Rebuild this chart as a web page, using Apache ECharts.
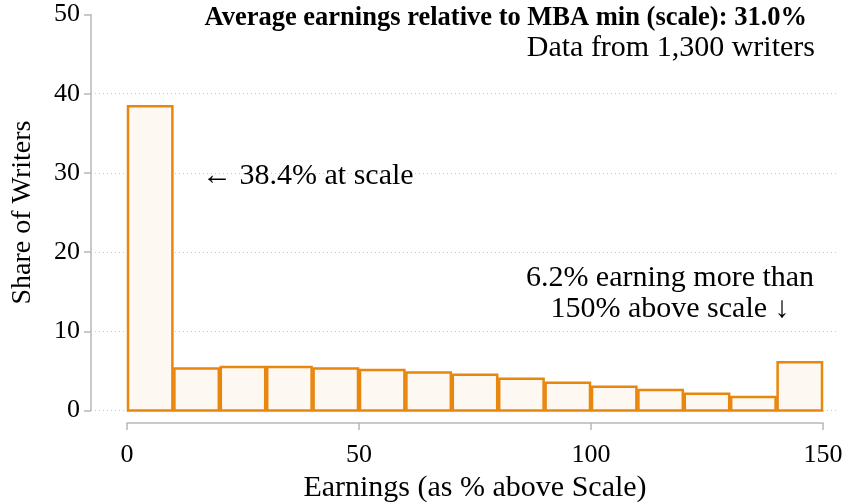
<!DOCTYPE html>
<html>
<head>
    <meta charset="utf-8">
    <title>Earnings histogram</title>
    <script src="https://cdn.jsdelivr.net/npm/echarts@6/dist/echarts.min.js"></script>
    <style type="text/css">
        body {
            margin: 0;
            background: #fff;
        }

        #main {
            width: 846px;
            height: 504px;
        }
    </style>
</head>
<body>
<div id="main"></div>
<script>
    // bins of 10 points, last bin holds everything above 140
    var binStarts = [0, 10, 20, 30, 40, 50, 60, 70, 80, 90, 100, 110, 120, 130, 140];
    var binWidth = 10;
    var shares = [38.4, 5.3, 5.5, 5.5, 5.3, 5.1, 4.8, 4.5, 4.0, 3.5, 3.0, 2.6, 2.1, 1.7, 6.1];
    var xTicks = [0, 50, 100, 150];
    var yTicks = [0, 10, 20, 30, 40, 50];

    var serif = 'Liberation Serif';
    var orange = '#E8860E';
    var axisGray = '#b8b8b8';

    var data = [];
    for (var i = 0; i < binStarts.length; i++) {
        data.push([binStarts[i], binStarts[i] + binWidth, shares[i]]);
    }

    function label(text, x, y, size, align, bold) {
        return {
            type: 'text',
            x: x,
            y: y,
            z: 10,
            style: {
                text: text,
                fill: '#000',
                font: (bold ? 'bold ' : '') + size + 'px "' + serif + '"',
                align: align,
                verticalAlign: 'middle'
            }
        };
    }

    var myChart = echarts.init(document.getElementById('main'));

    option = {
        animation: false,
        graphic: [
            label('Average earnings relative to MBA min (scale): 31.0%', 807, 18, 26.5, 'right', true),
            label('Data from 1,300 writers', 815, 48, 30, 'right', false),
            label('\u2190 38.4% at scale', 202, 176, 30, 'left', false),
            label('6.2% earning more than', 670, 278, 30, 'center', false),
            label('150% above scale \u2193', 670, 309, 30, 'center', false)
        ],
        grid: [
            {left: 127, right: 23, top: 14.5, bottom: 93.5, outerBoundsMode: 'none'},
            // dotted guide lines only go up to 40
            {left: 91, right: 8, top: 93.7, bottom: 93.5, outerBoundsMode: 'none'}
        ],
        xAxis: [{
            gridIndex: 0,
            type: 'value',
            min: 0,
            max: 150,
            interval: 50,
            offset: 12.5,
            name: 'Earnings (as % above Scale)',
            nameLocation: 'middle',
            nameGap: 48,
            nameTextStyle: {fontFamily: serif, fontSize: 30, color: '#000'},
            axisLine: {show: true, onZero: false, lineStyle: {color: axisGray, width: 1.5}},
            axisTick: {show: true, length: 7, lineStyle: {color: axisGray, width: 1.5}},
            axisLabel: {
                fontFamily: serif, fontSize: 26, color: '#000', margin: 19,
                formatter: function (v) {
                    return xTicks.indexOf(v) >= 0 ? String(v) : '';
                }
            },
            splitLine: {show: false}
        }, {
            gridIndex: 1,
            type: 'value',
            min: 0,
            max: 1,
            show: false
        }],
        yAxis: [{
            gridIndex: 0,
            type: 'value',
            min: 0,
            max: 50,
            interval: 10,
            offset: 36,
            name: 'Share of Writers',
            nameLocation: 'middle',
            nameGap: 54,
            nameTextStyle: {fontFamily: serif, fontSize: 28, color: '#000'},
            axisLine: {show: true, onZero: false, lineStyle: {color: axisGray, width: 1.5}},
            axisTick: {show: true, length: 7, lineStyle: {color: axisGray, width: 1.5}},
            axisLabel: {
                fontFamily: serif, fontSize: 26, color: '#000', margin: 11,
                formatter: function (v) {
                    return yTicks.indexOf(v) >= 0 ? String(v) : '';
                }
            },
            splitLine: {show: false}
        }, {
            gridIndex: 1,
            type: 'value',
            min: 0,
            max: 40,
            interval: 10,
            axisLine: {show: false},
            axisTick: {show: false},
            axisLabel: {show: false},
            splitLine: {
                show: true,
                lineStyle: {color: '#c8c8c8', type: [1, 3], width: 1}
            }
        }],
        series: [{
            type: 'custom',
            xAxisIndex: 0,
            yAxisIndex: 0,
            data: data,
            renderItem: function (params, api) {
                var start = api.coord([api.value(0), api.value(2)]);
                var end = api.coord([api.value(1), 0]);
                return {
                    type: 'rect',
                    shape: {
                        x: start[0] + 1,
                        y: start[1],
                        width: end[0] - start[0] - 2,
                        height: end[1] - start[1]
                    },
                    style: {
                        fill: '#FDF8F2',
                        stroke: orange,
                        lineWidth: 2.5
                    }
                };
            },
            z: 3
        }]
    };
    myChart.setOption(option);
</script>
</body>
</html>
